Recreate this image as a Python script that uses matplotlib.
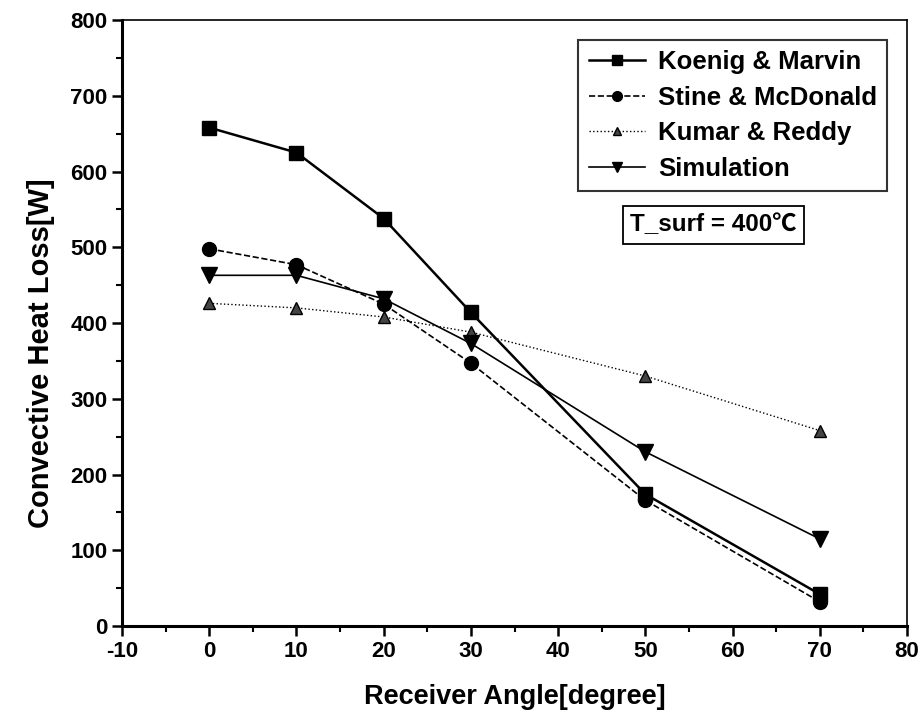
#!/usr/bin/env python3
"""Convective heat loss vs receiver angle, four correlations."""

import matplotlib

matplotlib.use("Agg")
import matplotlib.pyplot as plt  # noqa: E402
from matplotlib.ticker import MultipleLocator  # noqa: E402

angles = [0, 10, 20, 30, 50, 70]
koenig = [658, 625, 538, 414, 174, 42]
stine = [498, 477, 425, 347, 166, 32]
kumar = [426, 420, 408, 388, 330, 258]
simulation = [463, 463, 432, 373, 230, 115]

plt.rcParams["font.family"] = ["Liberation Sans", "DejaVu Sans"]
plt.rcParams["font.weight"] = "bold"
plt.rcParams["axes.unicode_minus"] = False


def main() -> int:
    fig = plt.figure(figsize=(9.2, 7.26), dpi=100)
    ax = fig.add_axes([0.1326, 0.1377, 0.8533, 0.8347])

    ax.plot(angles, koenig, "-", color="black", lw=1.8, marker="s", ms=10,
            label="Koenig & Marvin")
    ax.plot(angles, stine, "--", color="black", lw=1.2, marker="o", ms=10,
            label="Stine & McDonald")
    ax.plot(angles, kumar, ":", color="black", lw=1.0, marker="^", ms=9,
            mfc="#444444", label="Kumar & Reddy")
    ax.plot(angles, simulation, "-", color="black", lw=1.2, marker="v", ms=11,
            label="Simulation")

    ax.set_xlim(-10, 80)
    ax.set_ylim(0, 800)
    ax.xaxis.set_major_locator(MultipleLocator(10))
    ax.xaxis.set_minor_locator(MultipleLocator(5))
    ax.yaxis.set_major_locator(MultipleLocator(100))
    ax.yaxis.set_minor_locator(MultipleLocator(50))
    ax.tick_params(which="major", direction="out", length=7, width=1.8, labelsize=16)
    ax.tick_params(which="minor", direction="out", length=4, width=1.5)
    for side in ("left", "bottom"):
        ax.spines[side].set_linewidth(2.2)
    for side in ("right", "top"):
        ax.spines[side].set_linewidth(1.2)

    ax.set_xlabel("Receiver Angle[degree]", fontsize=19.5, fontweight="bold", labelpad=16)
    ax.set_ylabel("Convective Heat Loss[W]", fontsize=21, fontweight="bold")
    ax.yaxis.set_label_coords(-0.085, 0.45)

    leg = ax.legend(loc="upper right", bbox_to_anchor=(0.975, 0.967), fontsize=18.5,
                    frameon=True, fancybox=False, edgecolor="black", markerscale=0.7,
                    handlelength=2.2, handletextpad=0.5, borderpad=0.4,
                    labelspacing=0.45, borderaxespad=0.0)
    leg.get_frame().set_linewidth(1.5)

    ax.text(0.753, 0.662, "T_surf = 400\u2103", transform=ax.transAxes,
            fontsize=17.5, fontweight="bold", ha="center", va="center",
            family=["Liberation Sans", "Noto Sans CJK SC", "DejaVu Sans"],
            bbox=dict(boxstyle="square,pad=0.3", fc="white", ec="black", lw=1.3))

    fig.savefig("out.png", dpi=100)
    plt.close(fig)
    return 0


if __name__ == "__main__":
    raise SystemExit(main())
